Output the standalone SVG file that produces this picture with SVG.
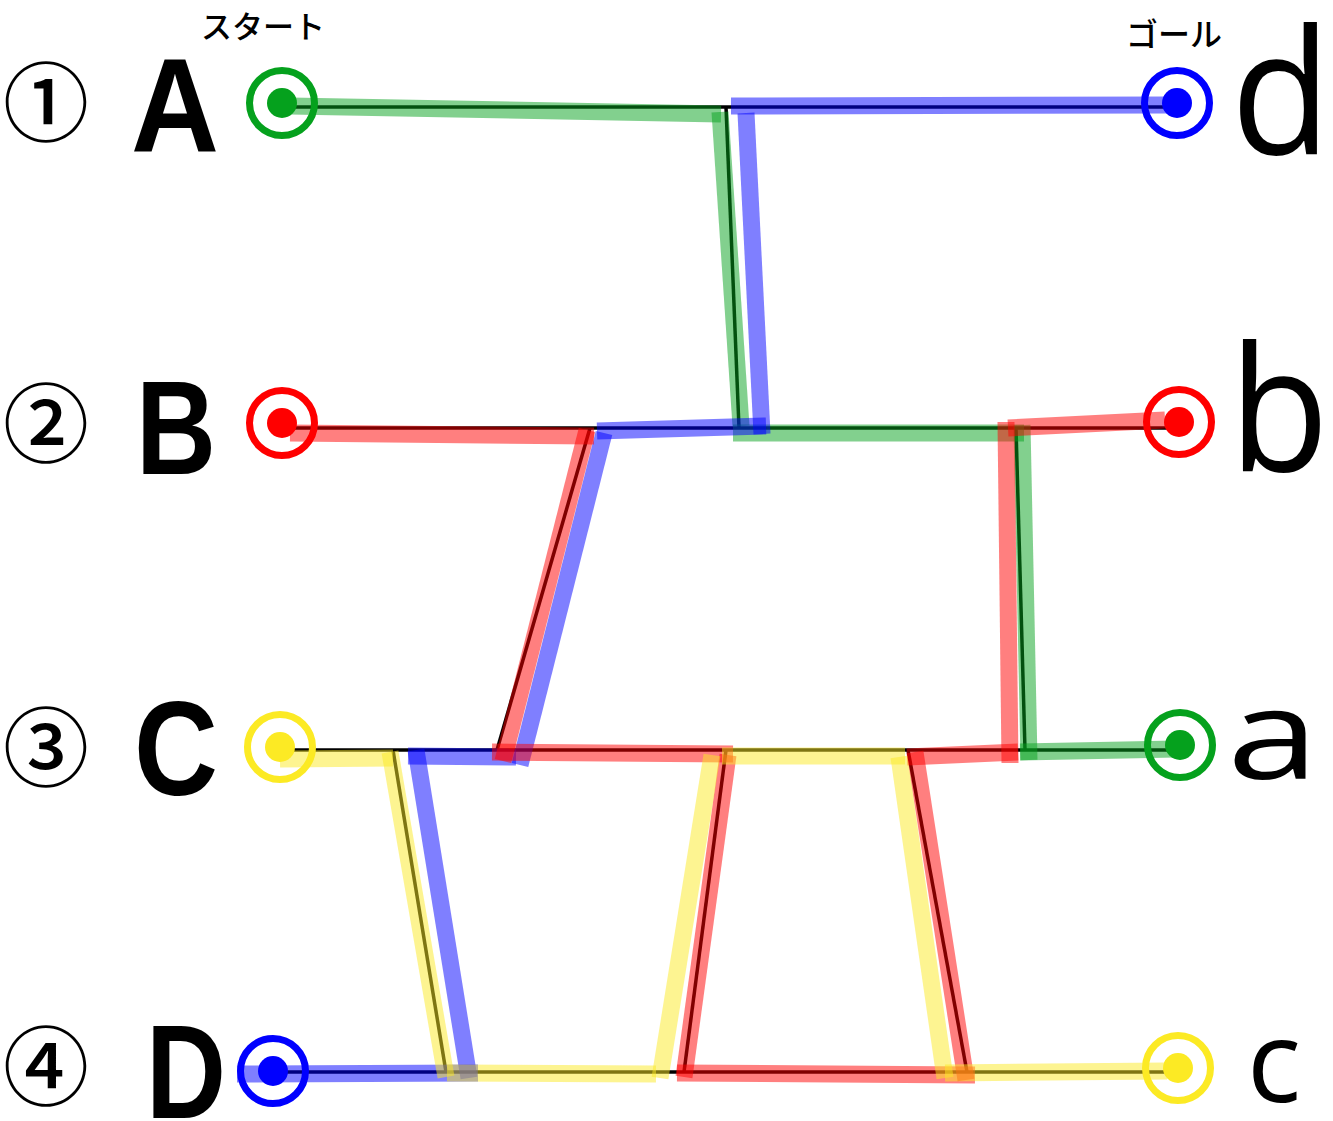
<svg xmlns="http://www.w3.org/2000/svg" width="1333" height="1121" viewBox="0 0 1333 1121">
<style>
.bk{stroke:#000;stroke-width:3.5;fill:none}
.band{stroke-width:17;stroke-linecap:butt;stroke-opacity:0.5;fill:none}
.g{stroke:#05a11d}
.b{stroke:#0000ff}
.r{stroke:#ff0000}
.y{stroke:#fcea24}
.ring{fill:none;stroke-width:7}
.num{font-family:"Noto Sans CJK JP","Noto Sans",sans-serif;font-size:86px;font-weight:500;text-anchor:middle;fill:#000}
.up{font-family:"Liberation Sans",Arial,sans-serif;font-weight:bold;font-size:133px;text-anchor:middle;fill:#000}
.lo{font-family:"Open Sans","Liberation Sans",sans-serif;font-weight:380;font-size:175px;text-anchor:middle;fill:#000}
.jp{font-family:"Noto Sans CJK JP",sans-serif;font-weight:500;text-anchor:middle;fill:#000}
</style>
<rect width="1333" height="1121" fill="#fff"/>
<g id="labels">
<text class="num" x="46" y="135">①</text>
<text class="num" x="46" y="456">②</text>
<text class="num" x="46" y="780">③</text>
<text class="num" x="46" y="1099">④</text>
<text class="up" x="175" y="152" textLength="88" lengthAdjust="spacingAndGlyphs">A</text>
<text class="up" x="176" y="474" textLength="80" lengthAdjust="spacingAndGlyphs">B</text>
<text class="up" x="176" y="795" textLength="84" lengthAdjust="spacingAndGlyphs">C</text>
<text class="up" x="186" y="1118" textLength="80" lengthAdjust="spacingAndGlyphs">D</text>
<text class="lo" x="1281" y="154" textLength="100" lengthAdjust="spacingAndGlyphs">d</text>
<text class="lo" x="1279" y="471" textLength="100" lengthAdjust="spacingAndGlyphs">b</text>
<text class="lo" x="1273" y="779" style="font-size:124px" textLength="92" lengthAdjust="spacingAndGlyphs">a</text>
<text class="lo" x="1274" y="1102" style="font-size:113px">c</text>
<text class="jp" x="263" y="38" font-size="31">スタート</text>
<text class="jp" x="1174" y="46" font-size="32">ゴール</text>
</g>
<g id="connectors">
<g id="ladder">
<line class="bk" x1="282" y1="107" x2="1177" y2="107"/>
<line class="bk" x1="282" y1="428" x2="1179" y2="428"/>
<line class="bk" x1="280" y1="750" x2="1180" y2="750"/>
<line class="bk" x1="273" y1="1072" x2="1178" y2="1072"/>
<line class="bk" x1="726" y1="107" x2="739" y2="428"/>
<line class="bk" x1="590" y1="428" x2="497" y2="750"/>
<line class="bk" x1="1016" y1="428" x2="1025" y2="750"/>
<line class="bk" x1="393" y1="750" x2="446" y2="1072"/>
<line class="bk" x1="726" y1="750" x2="684" y2="1072"/>
<line class="bk" x1="908" y1="750" x2="967" y2="1072"/>
</g>
<g id="path-green">
<line class="band g" x1="290" y1="106" x2="721" y2="114"/>
<line class="band g" x1="720" y1="112" x2="741" y2="426"/>
<line class="band g" x1="733" y1="433" x2="1024" y2="433"/>
<line class="band g" x1="1022" y1="425" x2="1029" y2="760"/>
<line class="band g" x1="1020" y1="752" x2="1176" y2="749"/>
</g>
<g id="path-blue">
<line class="band b" x1="731" y1="106" x2="1170" y2="105"/>
<line class="band b" x1="746" y1="113" x2="762" y2="434"/>
<line class="band b" x1="597" y1="431" x2="766" y2="426"/>
<line class="band b" x1="604" y1="433" x2="520" y2="765"/>
<line class="band b" x1="408" y1="756" x2="516" y2="757"/>
<line class="band b" x1="416" y1="750" x2="469" y2="1078"/>
<line class="band b" x1="237" y1="1074" x2="478" y2="1073"/>
</g>
<g id="path-red">
<line class="band r" x1="290" y1="433" x2="594" y2="436"/>
<line class="band r" x1="587" y1="430" x2="503" y2="761"/>
<line class="band r" x1="492" y1="752" x2="733" y2="754"/>
<line class="band r" x1="728" y1="755" x2="684" y2="1077"/>
<line class="band r" x1="677" y1="1073" x2="975" y2="1075"/>
<line class="band r" x1="915" y1="752" x2="966" y2="1080"/>
<line class="band r" x1="907" y1="757" x2="1018" y2="752"/>
<line class="band r" x1="1006" y1="422" x2="1010" y2="763"/>
<line class="band r" x1="1008" y1="428" x2="1165" y2="420"/>
</g>
<g id="path-yellow">
<line class="band y" x1="280" y1="759" x2="393" y2="758"/>
<line class="band y" x1="390" y1="752" x2="446" y2="1077"/>
<line class="band y" x1="447" y1="1073" x2="656" y2="1074"/>
<line class="band y" x1="712" y1="755" x2="660" y2="1078"/>
<line class="band y" x1="722" y1="756" x2="905" y2="756"/>
<line class="band y" x1="899" y1="757" x2="945" y2="1078"/>
<line class="band y" x1="945" y1="1073" x2="1167" y2="1071"/>
</g>
</g>
<g id="node-A"><circle class="ring" cx="282" cy="103" r="32.5" stroke="#05a11d"/><circle cx="282" cy="103" r="15" fill="#05a11d"/></g>
<g id="node-d"><circle class="ring" cx="1177" cy="103" r="32.5" stroke="#0000ff"/><circle cx="1177" cy="103" r="15" fill="#0000ff"/></g>
<g id="node-B"><circle class="ring" cx="282" cy="423" r="32.5" stroke="#ff0000"/><circle cx="282" cy="423" r="15" fill="#ff0000"/></g>
<g id="node-b"><circle class="ring" cx="1179" cy="422" r="32.5" stroke="#ff0000"/><circle cx="1179" cy="422" r="15" fill="#ff0000"/></g>
<g id="node-C"><circle class="ring" cx="280" cy="747" r="32.5" stroke="#fcea24"/><circle cx="280" cy="747" r="15" fill="#fcea24"/></g>
<g id="node-a"><circle class="ring" cx="1180" cy="745" r="32.5" stroke="#05a11d"/><circle cx="1180" cy="745" r="15" fill="#05a11d"/></g>
<g id="node-D"><circle class="ring" cx="273" cy="1071" r="32.5" stroke="#0000ff"/><circle cx="273" cy="1071" r="15" fill="#0000ff"/></g>
<g id="node-c"><circle class="ring" cx="1178" cy="1068" r="32.5" stroke="#fcea24"/><circle cx="1178" cy="1068" r="15" fill="#fcea24"/></g>
</svg>
